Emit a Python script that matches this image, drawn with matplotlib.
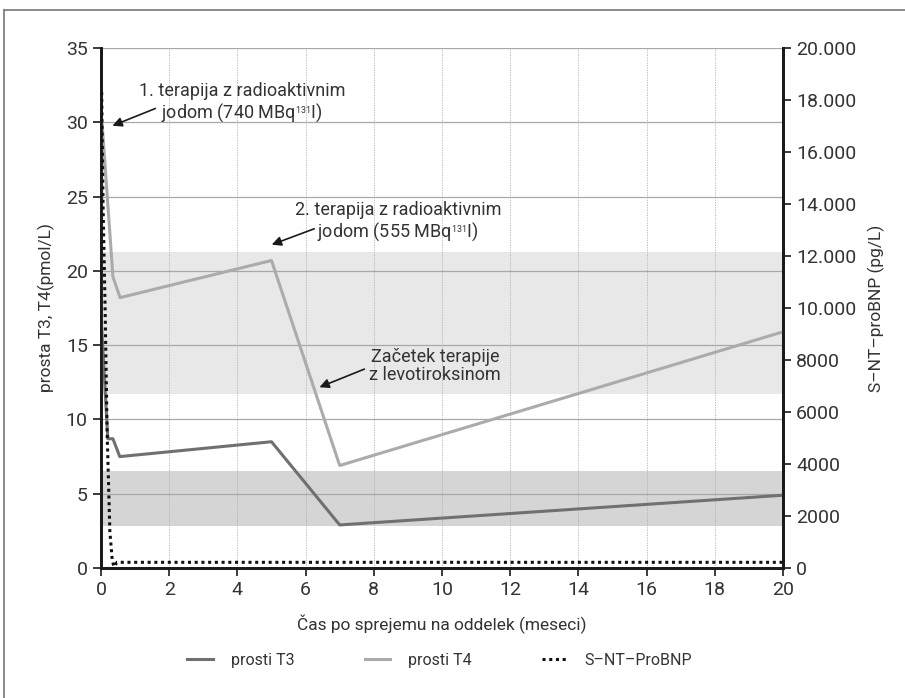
import matplotlib
matplotlib.use("Agg")
from matplotlib import pyplot as plt
from matplotlib.lines import Line2D

plt.rcParams['font.family'] = ['Roboto', 'DejaVu Sans']
plt.rcParams['mathtext.fontset'] = 'custom'
plt.rcParams['mathtext.rm'] = 'Roboto'

# free T3 / T4 (pmol/L) vs months after admission
T3_X = [0, 0.2, 0.35, 0.55, 5, 7, 20]
T3_Y = [17, 8.7, 8.7, 7.5, 8.5, 2.9, 4.9]
T4_X = [0, 0.03, 0.35, 0.56, 5, 7, 20]
T4_Y = [12.2, 30.0, 19.6, 18.2, 20.7, 6.9, 15.9]
# S-NT-proBNP (pg/L)
BNP_X = [0.02, 0.06, 0.12, 0.18, 0.26, 0.33, 0.38, 0.47, 20]
BNP_Y = [18300, 14000, 10000, 5200, 1400, 300, 50, 220, 220]

# reference ranges (pmol/L)
T4_RANGE = (11.7, 21.3)
T3_RANGE = (2.8, 6.5)

RIGHT_TICKS = [0, 2000, 4000, 6000, 8000, 10000, 12000, 14000, 16000, 18000, 20000]
RIGHT_LABELS = ['0', '2000', '4000', '6000', '8000', '10.000', '12.000',
                '14.000', '16.000', '18.000', '20.000']

TXT = '#333333'

fig = plt.figure(figsize=(9.05, 6.98), dpi=100)
ax = fig.add_axes([0.1116, 0.1862, 0.7536, 0.745])

ax.axhspan(*T4_RANGE, color='#e8e8e8', lw=0, zorder=0)
ax.axhspan(*T3_RANGE, color='#d5d5d5', lw=0, zorder=0)
for y in range(5, 36, 5):
    ax.axhline(y, color='#a8a8a8', lw=0.9, zorder=1)
for x in range(2, 20, 2):
    ax.axvline(x, color='#b0b0b0', lw=0.6, ls=(0, (1.5, 1.5)), zorder=1)

l3, = ax.plot(T3_X, T3_Y, color='#707070', lw=2.2, zorder=3, label='prosti T3')
l4, = ax.plot(T4_X, T4_Y, color='#ababab', lw=2.2, zorder=3, label='prosti T4')

ax.set_xlim(0, 20)
ax.set_ylim(0, 35)
ax.set_xticks(range(0, 21, 2))
ax.set_yticks(range(0, 36, 5))

ax2 = ax.twinx()
lb, = ax2.plot(BNP_X, BNP_Y, color='#111111', lw=2.2, ls=(0, (1, 1.2)),
               zorder=4, label='S–NT–ProBNP')
ax2.set_ylim(0, 20000)
ax2.set_yticks(RIGHT_TICKS)
ax2.set_yticklabels(RIGHT_LABELS)

for a in (ax, ax2):
    a.spines['top'].set_visible(False)
    for s in ('left', 'right', 'bottom'):
        a.spines[s].set_linewidth(2)
        a.spines[s].set_color('#1a1a1a')
    a.tick_params(labelsize=14, colors=TXT, length=6, width=1.2, color='#1a1a1a')

ax.set_xlabel('Čas po sprejemu na oddelek (meseci)', fontsize=12.5, color=TXT, labelpad=11)
ax.set_ylabel('prosta T3, T4(pmol/L)', fontsize=12.5, color=TXT, labelpad=8)
ax2.set_ylabel('S–NT–proBNP (pg/L)', fontsize=12.5, color=TXT, labelpad=8)

arrow = dict(arrowstyle='-|>', color='#1a1a1a', lw=1.2, mutation_scale=14)
ax.annotate('', xy=(0.26, 29.7), xytext=(1.67, 31.0), arrowprops=arrow, zorder=5)
ax.text(4.13, 31.3, '1. terapija z radioaktivnim\njodom (740 MBq$^{_{131}}$I)',
        ha='center', va='center', fontsize=13, color=TXT, linespacing=1.05)
ax.annotate('', xy=(4.93, 21.7), xytext=(6.33, 22.9), arrowprops=arrow, zorder=5)
ax.text(8.71, 23.3, '2. terapija z radioaktivnim\njodom (555 MBq$^{_{131}}$I)',
        ha='center', va='center', fontsize=13, color=TXT, linespacing=1.05)
ax.annotate('', xy=(6.33, 12.1), xytext=(7.8, 13.46), arrowprops=arrow, zorder=5)
ax.text(9.79, 13.6, 'Začetek terapije\nz levotiroksinom',
        ha='center', va='center', fontsize=13, color=TXT, linespacing=1.05)

fig.legend(handles=[l3, l4, lb], loc='center', bbox_to_anchor=(0.486, 0.054),
           ncol=3, frameon=False, fontsize=11.5, handlelength=1.6,
           handletextpad=1.1, columnspacing=4.4, labelcolor=TXT)

# outer frame (left and top edges)
fig.add_artist(Line2D([0.0045, 0.0045], [0, 0.986], color='#777777', lw=1.2))
fig.add_artist(Line2D([0.0045, 1], [0.986, 0.986], color='#777777', lw=1.2))

fig.savefig('out.png', dpi=100)
